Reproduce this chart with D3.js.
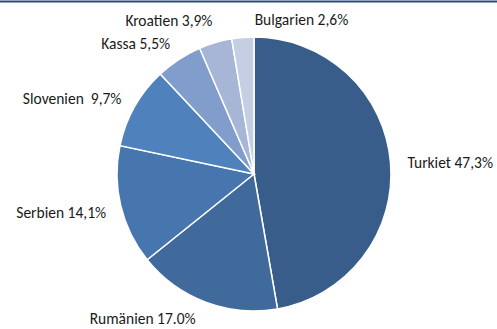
<!DOCTYPE html>
<html>
<head>
<meta charset="utf-8">
<style>
  body { margin: 0; background: #fff; }
  .label {
    font-family: Carlito, Calibri, Lato, sans-serif;
    font-size: 15.5px;
    fill: #1a1a1a;
  }
  .slice {
    stroke: #fff;
    stroke-width: 1.5px;
  }
</style>
</head>
<body>
<div id="chart"></div>
<script src="https://d3js.org/d3.v7.min.js"></script>
<script>
var countries = ['Turkiet', 'Rumänien', 'Serbien', 'Slovenien', 'Kassa', 'Kroatien', 'Bulgarien'];
var shares = [47.3, 17.0, 14.1, 9.7, 5.5, 3.9, 2.6];
var labels = ['Turkiet 47,3%', 'Rumänien 17.0%', 'Serbien 14,1%', 'Slovenien  9,7%', 'Kassa 5,5%', 'Kroatien 3,9%', 'Bulgarien 2,6%'];
var colors = ['#385d8a', '#416a9c', '#4776ae', '#4f81bd', '#819dcb', '#a7b6d6', '#c4cfe3'];

var width = 497;
var height = 329;
var cx = 254, cy = 174, radius = 137;

var svg = d3.select('#chart').append('svg')
    .attr('width', width)
    .attr('height', height);

// top rule
svg.append('line')
    .attr('x1', 0).attr('x2', width)
    .attr('y1', 1.5).attr('y2', 1.5)
    .attr('stroke', '#2a4a7a')
    .attr('stroke-width', 2);

var data = countries.map(function (c, i) {
  return { name: c, value: shares[i], label: labels[i], color: colors[i] };
});

var pie = d3.pie()
    .sort(null)
    .value(function (d) { return d.value; });

var arc = d3.arc().innerRadius(0).outerRadius(radius);

var arcs = pie(data);

var g = svg.append('g')
    .attr('transform', 'translate(' + cx + ',' + cy + ')');

g.selectAll('path')
    .data(arcs)
  .enter().append('path')
    .attr('class', 'slice')
    .attr('d', arc)
    .attr('fill', function (d) { return d.data.color; });

// labels sit just outside the pie; small nudges like Excel's label layout
var labelArc = d3.arc().innerRadius(radius + 14).outerRadius(radius + 14);
var nudge = {
  'Turkiet': [3, 2, 'start'],
  'Rumänien': [-5, 3, 'end'],
  'Serbien': [-1, 4, 'end'],
  'Slovenien': [-1, -1, 'end'],
  'Kassa': [-1, -4, 'end'],
  'Kroatien': [1, -9, 'end'],
  'Bulgarien': [13, -3.5, 'start']
};

g.selectAll('text')
    .data(arcs)
  .enter().append('text')
    .attr('class', 'label')
    .attr('transform', function (d) {
      var p = labelArc.centroid(d);
      var n = nudge[d.data.name];
      return 'translate(' + (p[0] + n[0]) + ',' + (p[1] + n[1]) + ')';
    })
    .attr('dy', '0.35em')
    .style('white-space', 'pre')
    .attr('text-anchor', function (d) { return nudge[d.data.name][2]; })
    .text(function (d) { return d.data.label; });
</script>
</body>
</html>
